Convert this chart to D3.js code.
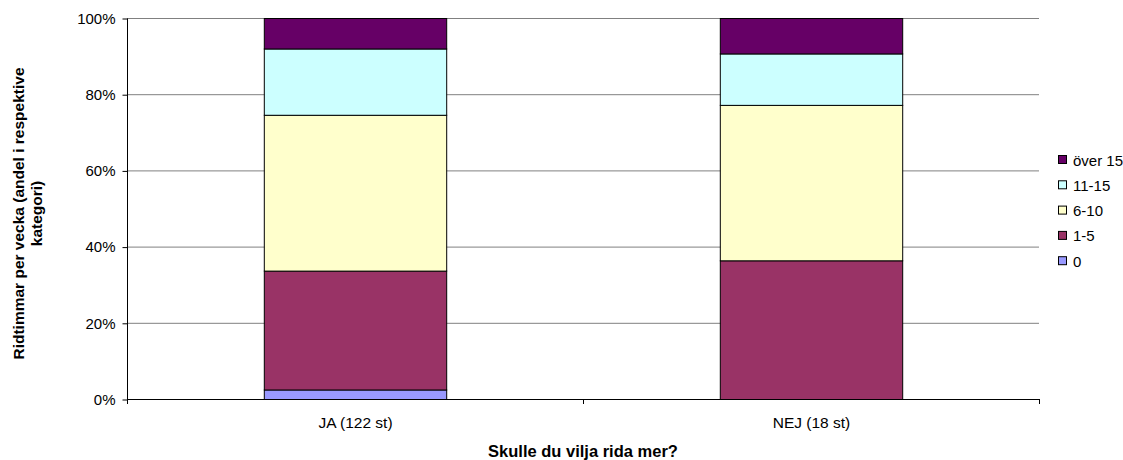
<!DOCTYPE html>
<html><head><meta charset="utf-8">
<script src="https://cdn.jsdelivr.net/npm/d3@7"></script>
<style>body{margin:0;background:#fff;}svg{display:block;font-family:"Liberation Sans",Arial,sans-serif;}</style>
</head><body><svg id="c" width="1123" height="460"></svg>
<script>
const categories = ["JA (122 st)", "NEJ (18 st)"];
const seriesNames = ["0", "1-5", "6-10", "11-15", "över 15"];
const s0 = [2.5, 0];
const s1_5 = [31.2, 36.4];
const s6_10 = [40.9, 40.8];
const s11_15 = [17.4, 13.5];
const sOver15 = [8.0, 9.3];
const yTicks = [0, 20, 40, 60, 80, 100];
const colors = ["#9999FF", "#993366", "#FFFFCC", "#CCFFFF", "#660066"];

const series = [s0, s1_5, s6_10, s11_15, sOver15];
const rows = categories.map((c, i) => {
  const r = {cat: c};
  seriesNames.forEach((n, k) => r[n] = series[k][i]);
  return r;
});
const stack = d3.stack().keys(seriesNames)(rows);

const svg = d3.select("#c");
const L = 127, R = 1039, T = 18, B = 399;
const FS = 15;
const x = d3.scaleBand().domain(categories).range([L, R]).paddingInner(0.6).paddingOuter(0.3);
const xb = d3.scaleBand().domain(categories).range([L, R]);
const y = d3.scaleLinear().domain([0, 100]).range([B, T]);

// gridlines
svg.append("g").selectAll("line").data(yTicks.filter(t => t > 0)).join("line")
  .attr("x1", L).attr("x2", R).attr("y1", d => y(d) + 0.5).attr("y2", d => y(d) + 0.5)
  .attr("stroke", "#808080").attr("stroke-width", 1);

// bars
svg.append("g").selectAll("g").data(stack).join("g")
  .attr("fill", (d, i) => colors[i])
  .selectAll("rect").data(d => d.filter(p => p[1] - p[0] > 0)).join("rect")
  .attr("x", d => x(d.data.cat) + 0.5)
  .attr("y", d => y(d[1]) + 0.5)
  .attr("width", x.bandwidth())
  .attr("height", d => y(d[0]) - y(d[1]))
  .attr("stroke", "#000").attr("stroke-width", 1);

// y axis
const ya = svg.append("g").attr("transform", `translate(${L + 0.5},0.5)`)
  .call(d3.axisLeft(y).tickValues(yTicks).tickFormat(d => d + "%").tickSize(5).tickPadding(7));
ya.select(".domain").attr("stroke", "#000").attr("d", `M0,${T}V${B}`);
ya.selectAll(".tick line").attr("stroke", "#000");
ya.selectAll("text").attr("font-size", FS).attr("fill", "#000").attr("font-family", "Liberation Sans, Arial, sans-serif");

// x axis
const xa = svg.append("g").attr("transform", `translate(0.5,${B + 0.5})`)
  .call(d3.axisBottom(xb).tickSize(0).tickPadding(17));
xa.select(".domain").attr("stroke", "#000").attr("d", `M${L},0H${R}`);
xa.selectAll("text").attr("font-size", FS + 0.5).attr("fill", "#000").attr("font-family", "Liberation Sans, Arial, sans-serif");
svg.append("g").selectAll("line").data([L, ...categories.map(c => xb(c) + xb.bandwidth())]).join("line")
  .attr("x1", d => d + 0.5).attr("x2", d => d + 0.5).attr("y1", B).attr("y2", B + 5)
  .attr("stroke", "#000");

// axis titles
svg.append("text").attr("x", (L + R) / 2).attr("y", 457).attr("text-anchor", "middle")
  .attr("font-size", 16.5).attr("font-weight", "bold").text("Skulle du vilja rida mer?");
const yt = svg.append("text").attr("transform", `translate(24,${(T + B) / 2 + 5}) rotate(-90)`)
  .attr("text-anchor", "middle").attr("font-size", 15.5).attr("font-weight", "bold");
yt.append("tspan").attr("x", 0).attr("dy", 0).text("Ridtimmar per vecka (andel i respektive");
yt.append("tspan").attr("x", 0).attr("dy", 18).text("kategori)");

// legend
const lg = svg.append("g").selectAll("g").data(seriesNames.slice().reverse()).join("g")
  .attr("transform", (d, i) => `translate(1058,${160 + i * 25.3})`);
lg.append("rect").attr("x", 0.5).attr("y", -4.5).attr("width", 8).attr("height", 8)
  .attr("fill", d => colors[seriesNames.indexOf(d)]).attr("stroke", "#000");
lg.append("text").attr("x", 15).attr("y", 5.5).attr("font-size", FS).text(d => d);
</script></body></html>
